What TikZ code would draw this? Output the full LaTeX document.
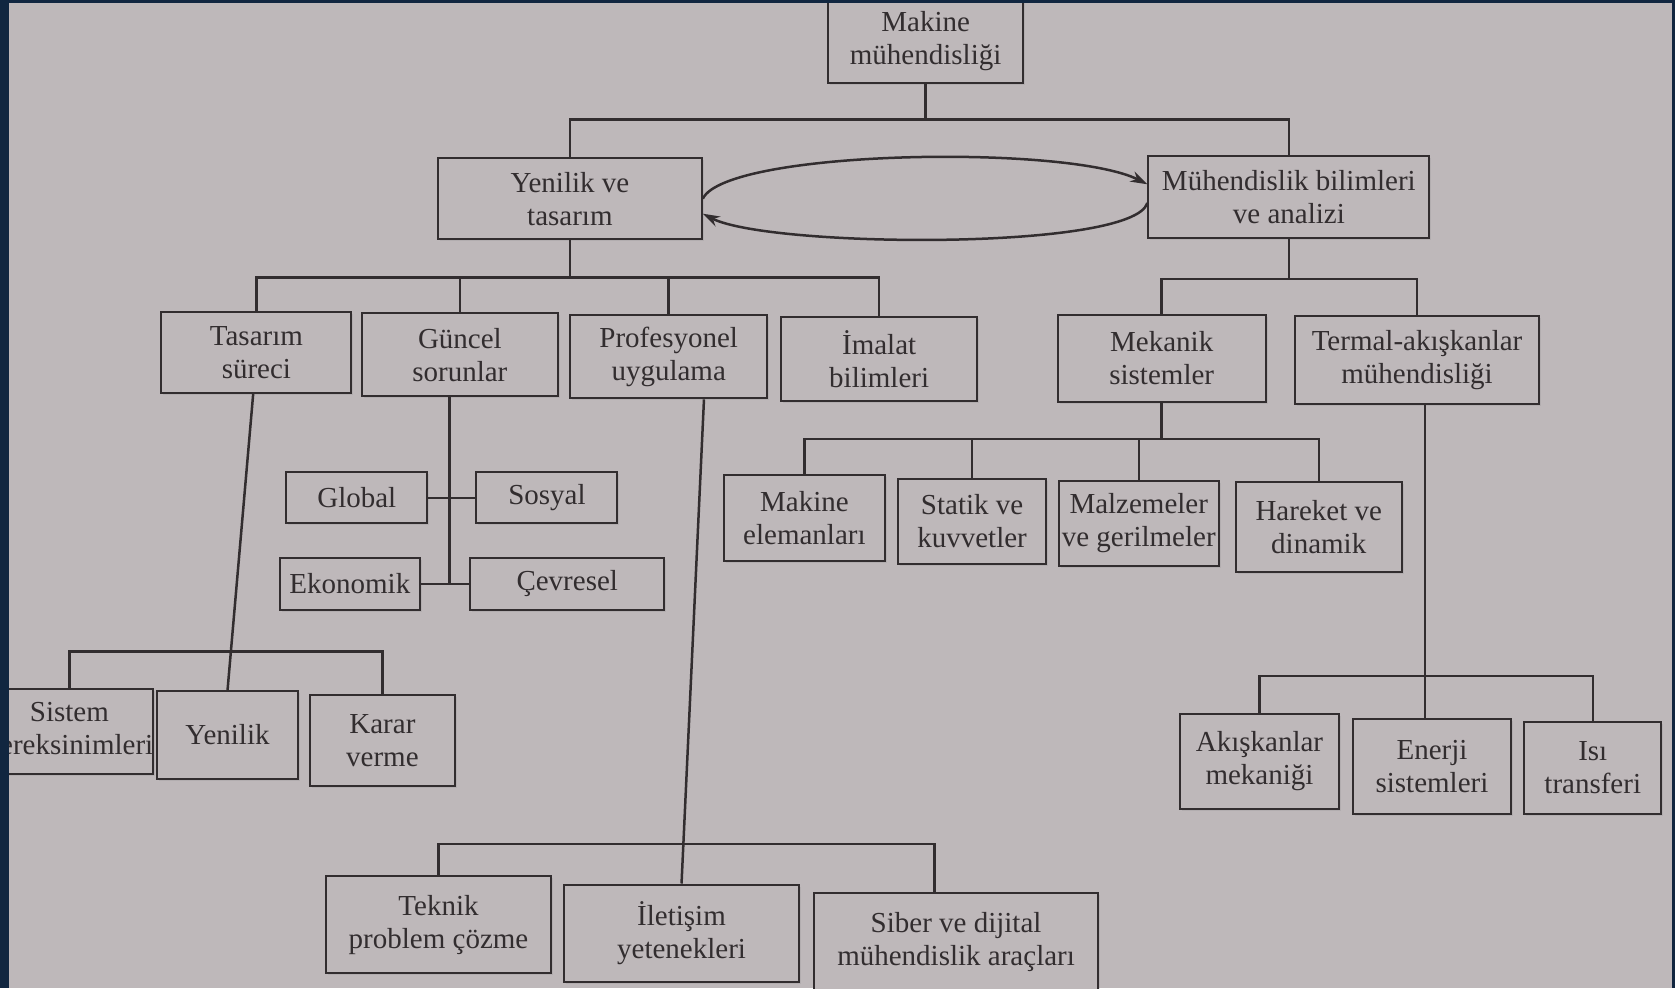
\documentclass[tikz,border=0pt]{standalone}
\usepackage{fontspec}
\setmainfont{Liberation Serif}
\usetikzlibrary{arrows.meta,shadows}
\definecolor{paper}{RGB}{190,184,186}
\definecolor{ink}{RGB}{50,45,47}
\definecolor{navy}{RGB}{17,38,64}
\newcommand\mkbox[6]{%
 \pgfmathsetmacro\bw{((#4)-(#2))*1.0682}%
 \pgfmathsetmacro\bh{((#5)-(#3))*1.0682}%
 \node[box,minimum width=\bw pt,minimum height=\bh pt] (#1) at ({((#2)+(#4))/2},{((#3)+(#5))/2}) {#6};}
\begin{document}
\begin{tikzpicture}[x=1.0682pt,y=-1.0682pt,
 box/.style={draw=ink, line width=2pt, fill=paper, text=ink, align=center, inner sep=0pt,
   font=\fontsize{29}{33}\selectfont,
   drop shadow={shadow xshift=2pt,shadow yshift=-2pt,opacity=0.18}},
 ln/.style={draw=ink, line width=2.5pt},
 arr/.style={ln, -{Stealth[length=17pt,width=11pt]}}]
\useasboundingbox (0,0) rectangle (1568,925);
\clip (0,0) rectangle (1568,925);
\fill[paper] (0,0) rectangle (1568,925);

% boxes
\mkbox{mak}{775}{-2}{958}{78}{Makine\\mühendisliği}
\mkbox{yen}{410}{148}{657}{224}{Yenilik ve\\tasarım}
\mkbox{mub}{1075}{146}{1338}{223}{Mühendislik bilimleri\\ve analizi}
\mkbox{tas}{151}{292}{329}{368}{Tasarım\\süreci}
\mkbox{gun}{339}{293}{522}{371}{Güncel\\sorunlar}
\mkbox{pro}{534}{295}{718}{373}{Profesyonel\\uygulama}
\mkbox{ima}{731}{297}{915}{375}{İmalat\\bilimleri}
\mkbox{mek}{990}{295}{1185}{376}{Mekanik\\sistemler}
\mkbox{ter}{1212}{296}{1441}{378}{Termal-akışkanlar\\mühendisliği}
\mkbox{mel}{678}{445}{828}{525}{Makine\\elemanları}
\mkbox{sta}{841}{448}{979}{528}{Statik ve\\kuvvetler}
\mkbox{mal}{991}{450}{1141}{530}{Malzemeler\\ve gerilmeler}
\mkbox{har}{1157}{451}{1312}{535}{Hareket ve\\dinamik}
\mkbox{glo}{268}{442}{400}{490}{Global}
\mkbox{sos}{446}{442}{578}{490}{Sosyal}
\mkbox{eko}{262}{522}{393}{571}{Ekonomik}
\mkbox{cev}{440}{522}{622}{571}{Çevresel}
\mkbox{sis}{-8}{645}{138}{725}{Sistem\\gereksinimleri}
\mkbox{yn2}{147}{647}{279}{729}{Yenilik}
\mkbox{kar}{290}{651}{426}{736}{Karar\\verme}
\mkbox{tek}{305}{820}{516}{911}{Teknik\\problem çözme}
\mkbox{ilt}{528}{828}{748}{919}{İletişim\\yetenekleri}
\mkbox{sib}{762}{836}{1028}{928}{Siber ve dijital\\mühendislik araçları}
\mkbox{aki}{1105}{668}{1253}{757}{Akışkanlar\\mekaniği}
\mkbox{ene}{1267}{673}{1414}{762}{Enerji\\sistemleri}
\mkbox{isi}{1427}{676}{1555}{762}{Isı\\transferi}

% bus coordinates
\coordinate (b1) at (0,112);
\coordinate (b2) at (0,260);
\coordinate (b3) at (0,261);
\coordinate (b4) at (0,411);
\coordinate (b5) at (0,610);
\coordinate (b6) at (0,790);
\coordinate (b7) at (0,633);
\coordinate (gx) at (421,547);
\coordinate (tx) at (237,0);
\coordinate (px) at (659,0);
\coordinate (sx) at (875,0);
\coordinate (thx) at (1334,0);

% level 1
\draw[ln] (mak.south) -- (mak.south |- b1);
\draw[ln] (yen.north) -- (yen.north |- b1) -- (mub.north |- b1) -- (mub.north);
% level 2 left
\draw[ln] (yen.south) -- (yen.south |- b2);
\draw[ln] (tas.north) -- (tas.north |- b2) -- (ima.north |- b2) -- (ima.north);
\draw[ln] (gun.north) -- (gun.north |- b2);
\draw[ln] (pro.north) -- (pro.north |- b2);
% level 2 right
\draw[ln] (mub.south) -- (mub.south |- b3);
\draw[ln] (mek.north) -- (mek.north |- b3) -- (ter.north |- b3) -- (ter.north);
% mekanik
\draw[ln] (mek.south) -- (mek.south |- b4);
\draw[ln] (mel.north) -- (mel.north |- b4) -- (har.north |- b4) -- (har.north);
\draw[ln] (sta.north) -- (sta.north |- b4);
\draw[ln] (mal.north) -- (mal.north |- b4);
% guncel
\draw[ln] (gun.south -| gx) -- (gx);
\draw[ln] (glo.east) -- (sos.west);
\draw[ln] (eko.east) -- (cev.west);
% tasarim
\draw[ln] (tas.south -| tx) -- (yn2.north);
\draw[ln] (sis.north) -- (sis.north |- b5) -- (kar.north |- b5) -- (kar.north);
% profesyonel
\draw[ln] (pro.south -| px) -- (ilt.north);
\draw[ln] (tek.north) -- (tek.north |- b6) -- (b6 -| sx) -- (sib.north -| sx);
% termal
\draw[ln] (ter.south -| thx) -- (ene.north -| thx);
\draw[ln] (aki.north) -- (aki.north |- b7) -- (isi.north |- b7) -- (isi.north);

% loop
\draw[arr] (yen.east) .. controls (680,140) and (1000,135) .. ([yshift=12.8pt]mub.west);
\draw[arr] ([yshift=-6pt]mub.west) .. controls (1060,235) and (720,232) .. ([yshift=-15pt]yen.east);

% photo frame
\fill[navy] (0,0) rectangle (8,925);
\fill[navy] (0,0) rectangle (1568,3);
\fill[navy] (1565,0) rectangle (1568,925);
\end{tikzpicture}
\end{document}
